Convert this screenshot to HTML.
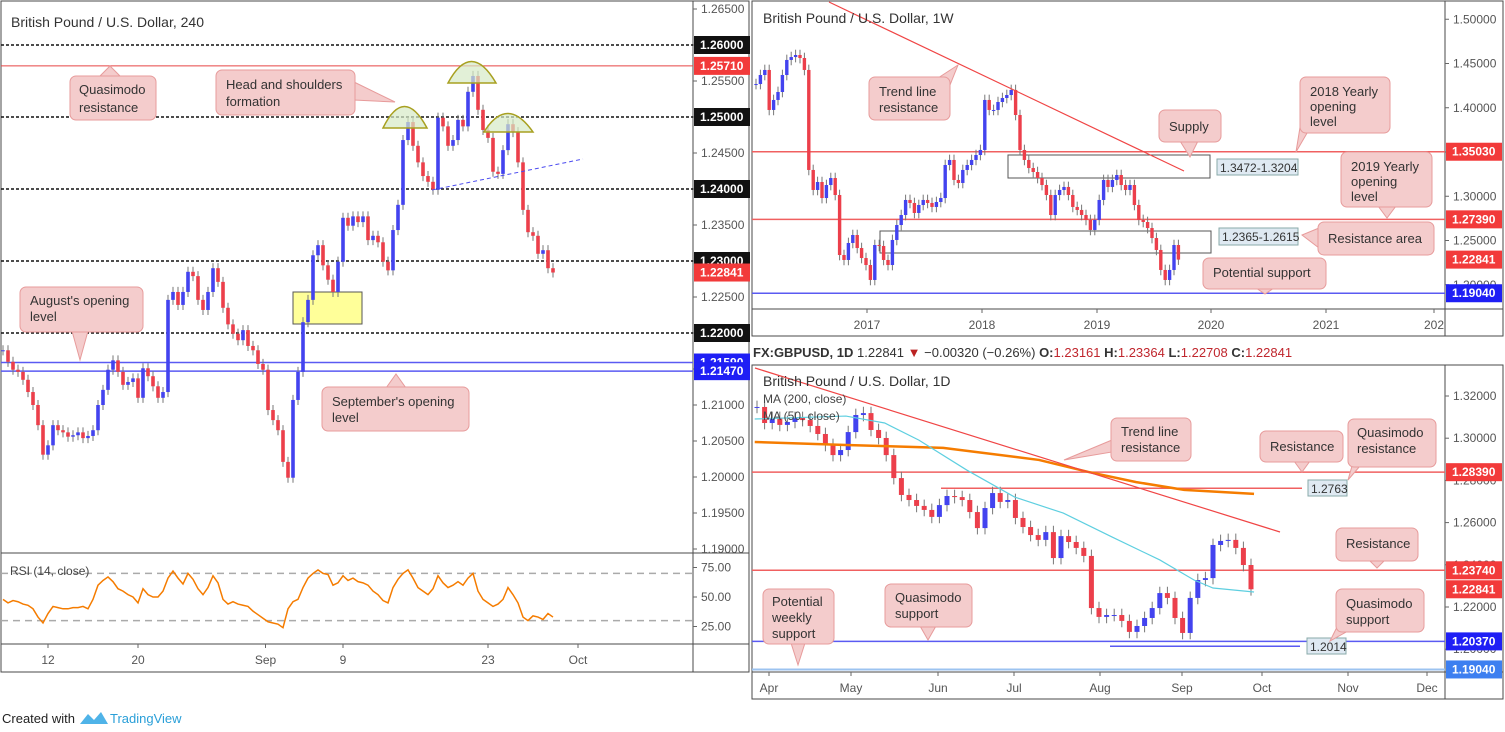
<!DOCTYPE html>
<html><head><meta charset="utf-8">
<style>
html,body{margin:0;padding:0;background:#fff;}
svg{display:block;font-family:"Liberation Sans",Arial,sans-serif;}
.tk{font-size:12px;fill:#555;}
.ax{font-size:12px;fill:#fff;font-weight:bold;}
.co rect,.co polygon{fill:#f4cccc;stroke:#e79b9b;stroke-width:1;}
.co text{font-size:13px;fill:#333;}
</style></head>
<body>
<svg id="root" width="1505" height="732" viewBox="0 0 1505 732">
<g>
 <rect x="1" y="1" width="748" height="671" fill="#fff" stroke="#4a4a4a"/>
 <line x1="693" y1="1" x2="693" y2="672" stroke="#4a4a4a"/>
 <line x1="1" y1="553" x2="749" y2="553" stroke="#4a4a4a"/>
 <line x1="1" y1="644" x2="749" y2="644" stroke="#4a4a4a"/>
 <text x="11" y="27" font-size="14" fill="#333">British Pound / U.S. Dollar, 240</text>
 <g id="h4grid"></g>
 <rect x="293" y="292" width="69" height="32" fill="#ffff99" stroke="#555"/>
 <g id="h4levels"></g>
 <g id="h4candles"></g>
 <path d="M383,128 Q404,85 427,128 Z" fill="#d6e9c6" fill-opacity="0.7" stroke="#a8a020" stroke-width="1.5"/>
 <path d="M448,83 Q471,40 496,83 Z" fill="#d6e9c6" fill-opacity="0.7" stroke="#a8a020" stroke-width="1.5"/>
 <path d="M484,132 Q507,95 533,132 Z" fill="#d6e9c6" fill-opacity="0.7" stroke="#a8a020" stroke-width="1.5"/>
 <line x1="432" y1="190" x2="583" y2="159" stroke="#4a4af0" stroke-dasharray="4,3"/>
 <g class="co"><polygon points="100,76 110,66 120,76"/><rect x="70" y="76" width="86" height="44" rx="6"/><text x="79" y="94">Quasimodo</text><text x="79" y="112">resistance</text></g>
 <g class="co"><polygon points="354,82 395,102 354,100"/><rect x="216" y="70" width="139" height="45" rx="6"/><text x="226" y="89">Head and shoulders</text><text x="226" y="106">formation</text></g>
 <g class="co"><polygon points="72,331 80,360 88,331"/><rect x="20" y="287" width="123" height="45" rx="6"/><text x="30" y="305">August's opening</text><text x="30" y="321">level</text></g>
 <g class="co"><polygon points="386,388 396,374 406,388"/><rect x="322" y="387" width="147" height="44" rx="6"/><text x="332" y="406">September's opening</text><text x="332" y="422">level</text></g>
 <g id="h4axis"></g>
 <g id="rsi"></g>
 <text x="10" y="575" font-size="12" fill="#444">RSI (14, close)</text>
</g>

<g>
 <rect x="752" y="1" width="751" height="335" fill="#fff" stroke="#4a4a4a"/>
 <line x1="1445" y1="1" x2="1445" y2="336" stroke="#4a4a4a"/>
 <line x1="752" y1="309" x2="1503" y2="309" stroke="#4a4a4a"/>
 <rect x="1008" y="155" width="202" height="23" fill="none" stroke="#555"/>
 <rect x="880" y="231" width="331" height="22" fill="none" stroke="#555"/>
 <g id="wlevels"></g>
 <g id="wcandles"></g>
 <line x1="829" y1="2" x2="1184" y2="171" stroke="#f04545" stroke-width="1.2"/>
 <text x="763" y="23" font-size="14" fill="#333">British Pound / U.S. Dollar, 1W</text>
 <g><rect x="1217" y="159" width="81" height="16" fill="#dfe9f2" stroke="#8aa"/><text x="1220" y="172" font-size="12" fill="#333">1.3472-1.3204</text></g>
 <g><rect x="1219" y="228" width="79" height="17" fill="#dfe9f2" stroke="#8aa"/><text x="1222" y="241" font-size="12" fill="#333">1.2365-1.2615</text></g>
 <g class="co"><polygon points="938,78 958,65 948,90"/><rect x="869" y="77" width="81" height="43" rx="6"/><text x="879" y="96">Trend line</text><text x="879" y="112">resistance</text></g>
 <g class="co"><polygon points="1180,141 1190,157 1198,141"/><rect x="1159" y="110" width="62" height="32" rx="6"/><text x="1169" y="131">Supply</text></g>
 <g class="co"><polygon points="1302,115 1296,152 1310,128"/><rect x="1300" y="77" width="90" height="56" rx="6"/><text x="1310" y="96">2018 Yearly</text><text x="1310" y="111">opening</text><text x="1310" y="126">level</text></g>
 <g class="co"><polygon points="1378,206 1387,218 1396,206"/><rect x="1341" y="152" width="91" height="55" rx="6"/><text x="1351" y="171">2019 Yearly</text><text x="1351" y="186">opening</text><text x="1351" y="201">level</text></g>
 <g class="co"><polygon points="1319,228 1302,235 1319,248"/><rect x="1318" y="222" width="116" height="33" rx="6"/><text x="1328" y="243">Resistance area</text></g>
 <g class="co"><polygon points="1256,288 1265,294 1274,288"/><rect x="1203" y="258" width="123" height="31" rx="6"/><text x="1213" y="277">Potential support</text></g>
 <g id="waxis"></g>
</g>

<text x="753" y="357" font-size="13" font-weight="bold" fill="#333">FX:GBPUSD, 1D <tspan font-weight="normal">1.22841</tspan> <tspan fill="#b22">▼</tspan> <tspan font-weight="normal">−0.00320 (−0.26%)</tspan> O:<tspan fill="#c0262d" font-weight="normal">1.23161</tspan> H:<tspan fill="#c0262d" font-weight="normal">1.23364</tspan> L:<tspan fill="#c0262d" font-weight="normal">1.22708</tspan> C:<tspan fill="#c0262d" font-weight="normal">1.22841</tspan></text>

<g>
 <rect x="752" y="365" width="751" height="334" fill="#fff" stroke="#4a4a4a"/>
 <line x1="1445" y1="365" x2="1445" y2="699" stroke="#4a4a4a"/>
 <line x1="752" y1="672" x2="1503" y2="672" stroke="#4a4a4a"/>
 <g id="dlevels"></g>
 <g id="dcandles"></g>
 <g id="dma"></g>
 <line x1="755" y1="368" x2="1280" y2="532" stroke="#f04545" stroke-width="1.2"/>
 <text x="763" y="386" font-size="14" fill="#333">British Pound / U.S. Dollar, 1D</text>
 <text x="763" y="403" font-size="12" fill="#444">MA (200, close)</text>
 <text x="763" y="420" font-size="12" fill="#444">MA (50, close)</text>
 <g><rect x="1308" y="480" width="39" height="16" fill="#dfe9f2" stroke="#8aa"/><text x="1311" y="493" font-size="12" fill="#333">1.2763</text></g>
 <g><rect x="1307" y="638" width="39" height="16" fill="#dfe9f2" stroke="#8aa"/><text x="1310" y="651" font-size="12" fill="#333">1.2014</text></g>
 <g class="co"><polygon points="1112,440 1064,460 1112,452"/><rect x="1111" y="418" width="80" height="43" rx="6"/><text x="1121" y="436">Trend line</text><text x="1121" y="452">resistance</text></g>
 <g class="co"><polygon points="1294,461 1302,472 1310,461"/><rect x="1260" y="431" width="83" height="31" rx="6"/><text x="1270" y="451">Resistance</text></g>
 <g class="co"><polygon points="1352,466 1348,480 1360,466"/><rect x="1348" y="419" width="88" height="48" rx="6"/><text x="1357" y="437">Quasimodo</text><text x="1357" y="453">resistance</text></g>
 <g class="co"><polygon points="1369,560 1377,568 1385,560"/><rect x="1336" y="528" width="82" height="33" rx="6"/><text x="1346" y="548">Resistance</text></g>
 <g class="co"><polygon points="791,643 798,665 805,643"/><rect x="763" y="589" width="71" height="55" rx="6"/><text x="772" y="606">Potential</text><text x="772" y="622">weekly</text><text x="772" y="638">support</text></g>
 <g class="co"><polygon points="920,626 928,640 936,626"/><rect x="885" y="584" width="87" height="43" rx="6"/><text x="895" y="602">Quasimodo</text><text x="895" y="618">support</text></g>
 <g class="co"><polygon points="1338,625 1330,641 1348,631"/><rect x="1336" y="589" width="88" height="43" rx="6"/><text x="1346" y="608">Quasimodo</text><text x="1346" y="624">support</text></g>
 <g id="daxis"></g>
</g>

<g>
 <text x="2" y="723" font-size="13" fill="#222">Created with</text>
 <path d="M80,724 L88,714 L94,720 L101,712 L108,724 Z" fill="#4fb3e8"/>
 <text x="110" y="723" font-size="13" fill="#2a9fd8">TradingView</text>
</g>
</svg>

<script>
var h4Closes = [1.2176,1.2160,1.2149,1.2146,1.2135,1.2118,1.2100,1.2072,1.2031,1.2044,1.2072,1.2065,1.2062,1.2056,1.2058,1.2062,1.2054,1.2057,1.2065,1.2100,1.2121,1.2149,1.2162,1.2146,1.2128,1.2132,1.2137,1.2110,1.2151,1.2140,1.2126,1.2110,1.2118,1.2246,1.2257,1.2239,1.2257,1.2285,1.2279,1.2246,1.2232,1.2257,1.2290,1.2271,1.2235,1.2212,1.2199,1.2190,1.2204,1.2182,1.2176,1.2157,1.2149,1.2093,1.2079,1.2065,1.2021,1.1999,1.2107,1.2146,1.2215,1.2246,1.2308,1.2322,1.2294,1.2274,1.2257,1.2299,1.2360,1.2349,1.2362,1.2354,1.2362,1.2329,1.2335,1.2326,1.2299,1.2287,1.2343,1.2378,1.2468,1.2493,1.2460,1.2437,1.2418,1.2410,1.2399,1.2499,1.2487,1.2460,1.2468,1.2496,1.2487,1.2535,1.2557,1.2510,1.2482,1.2471,1.2424,1.2421,1.2454,1.2490,1.2479,1.2437,1.2371,1.2340,1.2335,1.2310,1.2315,1.2290,1.2284];
var h4Rsi = [48,45,47,46,44,43,40,33,28,36,42,41,40,40,41,41,42,40,48,60,64,67,63,57,55,52,50,45,57,52,50,50,55,66,72,66,61,70,65,57,52,58,68,62,48,44,46,44,43,42,38,35,32,29,28,27,24,40,46,48,58,66,70,73,70,69,60,62,68,64,66,63,62,60,55,52,47,45,58,65,70,73,66,58,55,52,57,68,62,58,60,63,60,66,70,55,48,45,42,44,48,58,52,45,33,30,34,33,31,36,33];
var h4PriceTicks = [1.265,1.26,1.255,1.25,1.245,1.24,1.235,1.23,1.225,1.22,1.215,1.21,1.205,1.20,1.195,1.19];
var h4RsiTicks = [75,50,25];
var h4DateLabels = ["12","20","Sep","9","23","Oct"];
var h4DateIdx = [9,27,52.5,68,97,115];
var h4Levels = [1.26,1.25,1.24,1.23,1.22];
var h4RedLevels = [1.2571];
var h4BlueLevels = [1.2159,1.2147];

var wCloses = [1.4268,1.4370,1.4427,1.3975,1.4088,1.4178,1.4370,1.4540,1.4573,1.4596,1.4562,1.4427,1.3297,1.3071,1.3161,1.2980,1.3127,1.3206,1.3014,1.2336,1.2280,1.2472,1.2562,1.2415,1.2302,1.2223,1.2054,1.2449,1.2438,1.2280,1.2223,1.2506,1.2675,1.2788,1.2958,1.2924,1.2811,1.2901,1.2958,1.2924,1.2879,1.2935,1.2980,1.3353,1.3410,1.3184,1.3150,1.3297,1.3353,1.3410,1.3466,1.3523,1.4088,1.3975,1.3975,1.4065,1.4110,1.4144,1.4201,1.3918,1.3523,1.3410,1.3319,1.3274,1.3206,1.3127,1.3014,1.2788,1.3014,1.3071,1.3105,1.3014,1.2879,1.2845,1.2788,1.2732,1.2619,1.2732,1.2958,1.3184,1.3105,1.3184,1.3240,1.3127,1.3071,1.3127,1.2901,1.2732,1.2709,1.2641,1.2528,1.2393,1.2167,1.2054,1.2167,1.2449,1.2284];
var wPriceTicks = [1.50,1.45,1.40,1.35,1.30,1.25,1.20];
var wYearLabels = ["2017","2018","2019","2020","2021","202"];
var wYearX = [867,982,1097,1211,1326,1434];
var wRedLevels = [1.3503,1.2739];
var wBlueLevels = [1.1904];

var dCloses = [1.3148,1.3072,1.3096,1.3063,1.3077,1.3096,1.3086,1.3058,1.3020,1.2968,1.2920,1.2944,1.3029,1.3110,1.3119,1.3039,1.3001,1.2920,1.2811,1.2731,1.2707,1.2679,1.2660,1.2627,1.2683,1.2726,1.2721,1.2707,1.2650,1.2574,1.2669,1.2740,1.2698,1.2707,1.2622,1.2579,1.2541,1.2518,1.2555,1.2432,1.2536,1.2508,1.2480,1.2442,1.2195,1.2153,1.2162,1.2162,1.2134,1.2082,1.2110,1.2148,1.2195,1.2266,1.2243,1.2148,1.2077,1.2243,1.2328,1.2337,1.2494,1.2513,1.2518,1.2480,1.2399,1.2284];
var ma200Idx = [-0.3,11.7,24.5,37.1,43.6,49.9,56.2,65.4];
var ma200Vals = [1.2982,1.2968,1.2954,1.2897,1.2840,1.2792,1.2755,1.2736];
var ma50Idx = [-0.3,11.7,16.8,21.3,27.6,33.9,40.3,46.7,53,57.5,60,65.4];
var ma50Vals = [1.3091,1.3105,1.3072,1.2991,1.2849,1.2721,1.2645,1.2532,1.2423,1.2328,1.2290,1.2271];
var dPriceTicks = [1.32,1.30,1.28,1.26,1.24,1.22,1.20];
var dMonthLabels = ["Apr","May","Jun","Jul","Aug","Sep","Oct","Nov","Dec"];
var dMonthX = [769,851,938,1014,1100,1182,1262,1348,1427];
var dRedLevels = [1.2839,1.2374];
var dBlueLevels = [1.2037,1.1904];

var NS = "http://www.w3.org/2000/svg";
function mk(parent, tag, attrs){ var e=document.createElementNS(NS,tag); for(var k in attrs){e.setAttribute(k,attrs[k]);} parent.appendChild(e); return e; }
var UP="#4343ef", DN="#ec3f4b";

function h4X(i){ return 3 + i*5; }
function h4Y(p){ return 45 + (1.26-p)*7200; }
function rsiY(v){ return 597 - (v-50)*1.18; }
function wX(i){ return 756 + i*4.4; }
function wY(p){ return 152 + (1.35-p)*885; }
function dX(i){ return 757 + i*7.6; }
function dY(p){ return 396 + (1.32-p)*2110; }

function drawCandles(g, closes, xf, yf, bw, wick, nameBase){
  for(var i=0;i<closes.length;i++){
    var o = i===0 ? closes[0] : closes[i-1], c = closes[i];
    var up = c>=o, col = up?UP:DN;
    var hi = Math.max(o,c)+wick, lo = Math.min(o,c)-wick;
    var x = xf(i);
    var w = mk(g,"line",{x1:x,x2:x,y1:yf(hi),y2:yf(lo),stroke:"#777","stroke-width":1});
    
    
    var yt = yf(Math.max(o,c)), yb = yf(Math.min(o,c));
    var r = mk(g,"rect",{x:x-bw/2,y:yt,width:bw,height:Math.max(1,yb-yt),fill:col});
    
    
  }
}
function hline(g, x1, x2, y, col, dash, name, w){
  var l = mk(g,"line",{x1:x1,x2:x2,y1:y,y2:y,stroke:col,"stroke-width":w||1});
  if(dash) l.setAttribute("stroke-dasharray",dash);
  
  
}
function axLabel(g, x, y, txt, bg, name){
  var r = mk(g,"rect",{x:x,y:y-9,width:56,height:18,fill:bg});
  
  
  var t = mk(g,"text",{x:x+6,y:y+4,"class":"ax"}); t.textContent = txt;
  
  
}
function tick(g, x, y, txt, name){
  mk(g,"line",{x1:x-4,x2:x,y1:y,y2:y,stroke:"#666"});
  var t = mk(g,"text",{x:x+4,y:y+4,"class":"tk"}); t.textContent = txt;
  
  
}
function fmt(p,d){ return p.toFixed(d); }

var gL = document.getElementById("h4levels");
h4Levels.forEach(function(p){ hline(gL,1,693,h4Y(p),"#111","3,2","h4-round-number-level",1.5); });
h4RedLevels.forEach(function(p){ hline(gL,1,693,h4Y(p),"#e84545",null,"h4-quasimodo-level"); });
h4BlueLevels.forEach(function(p){ hline(gL,1,693,h4Y(p),"#5a5af2",null,"h4-opening-level",1.5); });
drawCandles(document.getElementById("h4candles"), h4Closes, h4X, h4Y, 3.6, 0.0007, "h4");
var gA = document.getElementById("h4axis");
h4PriceTicks.forEach(function(p){ var y=h4Y(p); if(y>3&&y<553) tick(gA,697,y,fmt(p,5),"h4-price-tick"); });
h4Levels.forEach(function(p){ axLabel(gA,694,h4Y(p),fmt(p,5),"#111","h4-level-label"); });
h4RedLevels.forEach(function(p){ axLabel(gA,694,h4Y(p),fmt(p,5),"#f23a3a","h4-red-label"); });
axLabel(gA,694,h4Y(h4Closes[h4Closes.length-1]),"1.22841","#f23a3a","h4-last-price-label");
h4BlueLevels.forEach(function(p){ axLabel(gA,694,h4Y(p),fmt(p,5),"#1f1ff5","h4-blue-label"); });
h4DateLabels.forEach(function(s,k){ var x=h4X(h4DateIdx[k]); mk(gA,"line",{x1:x,x2:x,y1:644,y2:648,stroke:"#666"}); var t=mk(gA,"text",{x:x,y:664,"class":"tk","text-anchor":"middle"}); t.textContent=s;
  
   });
var gR = document.getElementById("rsi");
hline(gR,1,693,rsiY(70),"#aaa","7,5","rsi-upper-band",1.5);
hline(gR,1,693,rsiY(30),"#aaa","7,5","rsi-lower-band",1.5);
var pts = h4Rsi.map(function(v,i){ return h4X(i)+","+rsiY(v); }).join(" ");
var pl = mk(gR,"polyline",{points:pts,fill:"none",stroke:"#f57c00","stroke-width":1.5});


h4RsiTicks.forEach(function(v){ tick(gR,697,rsiY(v),v.toFixed(2),"rsi-tick"); });

var gW = document.getElementById("wlevels");
wRedLevels.forEach(function(p){ hline(gW,752,1445,wY(p),"#f06060",null,"weekly-yearly-level",1.5); });
wBlueLevels.forEach(function(p){ hline(gW,752,1445,wY(p),"#5a5af2",null,"weekly-support-level",1.5); });
drawCandles(document.getElementById("wcandles"), wCloses, wX, wY, 3.4, 0.006, "weekly");
var gWA = document.getElementById("waxis");
wPriceTicks.forEach(function(p){ tick(gWA,1449,wY(p),fmt(p,5),"weekly-price-tick"); });
wRedLevels.forEach(function(p){ axLabel(gWA,1446,wY(p),fmt(p,5),"#f23a3a","weekly-red-label"); });
axLabel(gWA,1446,wY(wCloses[wCloses.length-1]),"1.22841","#f23a3a","weekly-last-price-label");
wBlueLevels.forEach(function(p){ axLabel(gWA,1446,wY(p),fmt(p,5),"#1f1ff5","weekly-blue-label"); });
wYearLabels.forEach(function(s,k){ var x=wYearX[k]; mk(gWA,"line",{x1:x,x2:x,y1:309,y2:313,stroke:"#666"}); var t=mk(gWA,"text",{x:x,y:329,"class":"tk","text-anchor":"middle"}); t.textContent=s;
  
   });

var gD = document.getElementById("dlevels");
dRedLevels.forEach(function(p){ hline(gD,752,1445,dY(p),"#f06060",null,"daily-resistance-level",1.5); });
hline(gD,941,1302,dY(1.2763),"#f06060",null,"daily-quasimodo-resistance-line",1.5);
hline(gD,752,1445,dY(dBlueLevels[0]),"#5a5af2",null,"daily-quasimodo-support-level",1.5);
hline(gD,752,1445,dY(dBlueLevels[1]),"#9cc3f0",null,"daily-weekly-support-level",2);
hline(gD,1110,1300,dY(1.2014),"#5a5af2",null,"daily-1-2014-line",1.5);
drawCandles(document.getElementById("dcandles"), dCloses, dX, dY, 5, 0.003, "daily");
var gM = document.getElementById("dma");
var m2 = mk(gM,"polyline",{points:ma200Idx.map(function(i,k){return dX(i)+","+dY(ma200Vals[k]);}).join(" "),fill:"none",stroke:"#f57c00","stroke-width":2.5});


var m5 = mk(gM,"polyline",{points:ma50Idx.map(function(i,k){return dX(i)+","+dY(ma50Vals[k]);}).join(" "),fill:"none",stroke:"#5ecfe0","stroke-width":1.2});


var gDA = document.getElementById("daxis");
dPriceTicks.forEach(function(p){ tick(gDA,1449,dY(p),fmt(p,5),"daily-price-tick"); });
dRedLevels.forEach(function(p){ axLabel(gDA,1446,dY(p),fmt(p,5),"#f23a3a","daily-red-label"); });
axLabel(gDA,1446,dY(dCloses[dCloses.length-1]),"1.22841","#f23a3a","daily-last-price-label");
axLabel(gDA,1446,dY(dBlueLevels[0]),fmt(dBlueLevels[0],5),"#1f1ff5","daily-blue-label");
axLabel(gDA,1446,dY(dBlueLevels[1]),fmt(dBlueLevels[1],5),"#3d7ff0","daily-lightblue-label");
dMonthLabels.forEach(function(s,k){ var x=dMonthX[k]; mk(gDA,"line",{x1:x,x2:x,y1:672,y2:676,stroke:"#666"}); var t=mk(gDA,"text",{x:x,y:692,"class":"tk","text-anchor":"middle"}); t.textContent=s;
  
   });
</script>
</body></html>
